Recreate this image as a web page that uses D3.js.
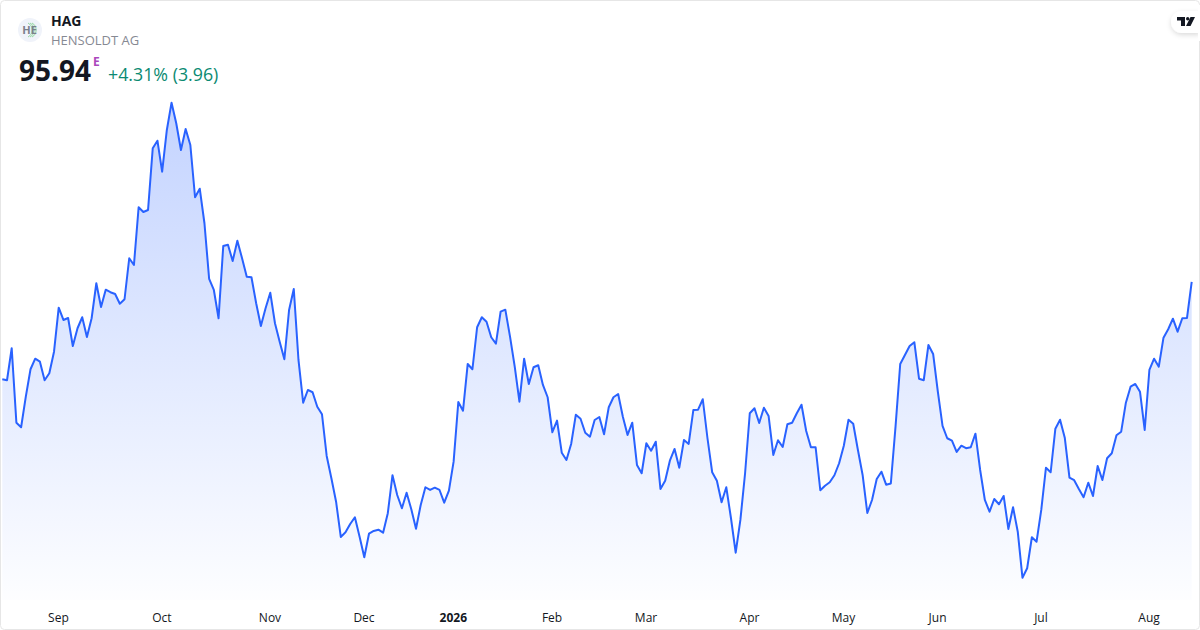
<!DOCTYPE html>
<html>
<head>
<meta charset="utf-8">
<script src="https://d3js.org/d3.v7.min.js"></script>
<style>
    html, body { margin: 0; padding: 0; background: #fff; }
    svg text { font-family: "Open Sans", sans-serif; }
</style>
</head>
<body>
<script>
// closing prices, one per trading day
var closes = [
    85.24,85.13,88.65,80.46,79.96,83.32,86.34,87.50,87.17,85.13,85.90,88.27,93.11,91.76,91.98,88.90,90.85,92.06,89.89,91.95,
    95.80,93.19,95.09,94.81,94.62,93.55,94.04,98.55,97.81,104.16,103.64,103.86,110.65,111.48,108.07,112.66,115.66,113.40,110.46,112.77,
    111.01,105.26,106.20,102.40,96.27,95.06,91.95,99.90,100.04,98.25,100.48,98.55,96.52,96.46,93.60,91.10,93.05,94.76,91.40,89.37,
    87.44,92.86,95.17,
    87.36,82.66,84.06,83.81,82.22,81.39,76.80,74.35,71.77,67.89,68.41,69.32,70.06,67.92,65.66,68.25,68.55,68.69,68.36,70.50,
    74.68,72.51,71.05,72.76,70.94,68.80,71.41,73.36,73.06,73.31,73.06,71.66,72.98,76.17,82.74,81.78,86.92,86.34,90.96,92.06,
    91.57,89.86,89.15,92.67,92.89,89.92,86.62,82.77,87.50,84.72,86.56,86.78,84.61,83.26,79.41,80.69,77.16,76.36,78.12,81.34,
    80.90,79.36,78.92,
    80.76,81.09,79.19,82.16,83.26,83.62,81.12,79.11,80.46,75.81,74.90,78.20,77.38,78.37,73.17,74.08,76.28,77.57,75.51,78.56,
    78.12,81.86,81.89,83.04,78.75,75.01,74.08,71.71,73.36,69.95,66.16,69.76,74.90,81.50,82.05,80.43,82.11,81.20,76.91,78.53,
    77.79,80.29,80.46,81.50,82.44,79.55,77.76,77.76,73.03,73.53,73.91,74.68,76.00,77.93,80.79,80.35,77.46,74.71,70.53,71.96,
    74.27,75.07,73.64,73.77,
    80.02,86.92,87.91,88.90,89.31,85.30,85.13,89.01,88.02,83.87,80.10,78.75,78.48,77.24,77.93,77.65,77.76,79.25,75.26,71.96,
    70.67,72.07,71.49,72.40,68.77,71.16,68.47,63.41,64.45,67.86,67.37,70.86,75.51,75.01,79.80,80.79,78.81,74.41,74.13,73.17,
    72.26,73.86,72.40,75.70,74.16,76.55,77.10,79.08,79.47,82.66,84.42,84.72,83.87,79.66,86.26,87.50,86.62,89.81,90.74,91.90,
    90.47,91.95,91.98,95.94
];
var monthTicks = [12, 34, 57, 77, 96, 117, 137, 159, 179, 199, 221, 244];
var monthLabels = ["Sep", "Oct", "Nov", "Dec", "2026", "Feb", "Mar", "Apr", "May", "Jun", "Jul", "Aug"];

var w = 1200, h = 630;

var svg = d3.select("body").append("svg")
    .attr("width", w)
    .attr("height", h)
    .style("display", "block");

var defs = svg.append("defs");
var grad = defs.append("linearGradient")
    .attr("id", "areaFill")
    .attr("gradientUnits", "userSpaceOnUse")
    .attr("x1", 0).attr("x2", 0)
    .attr("y1", 100).attr("y2", 600);
grad.append("stop").attr("offset", 0).attr("stop-color", "#2962ff").attr("stop-opacity", 0.28);
grad.append("stop").attr("offset", 1).attr("stop-color", "#2962ff").attr("stop-opacity", 0.01);

var pill = defs.append("filter").attr("id", "pillShadow")
    .attr("x", "-30%").attr("y", "-30%").attr("width", "160%").attr("height", "180%");
pill.append("feDropShadow").attr("dx", 0).attr("dy", 2).attr("stdDeviation", 2.5)
    .attr("flood-color", "#000").attr("flood-opacity", 0.14);

// card background
svg.append("rect")
    .attr("x", 0.5).attr("y", 0.5)
    .attr("width", w - 1).attr("height", h - 1)
    .attr("rx", 4)
    .attr("fill", "#fff")
    .attr("stroke", "#e6e6e6");

var x = d3.scaleLinear().domain([0, closes.length - 1]).range([2.3, 1191.7]);
var y = d3.scaleLinear().domain([115.66, 63.41]).range([102.7, 577.7]);

var area = d3.area()
    .x(function(d, i) { return x(i); })
    .y0(600)
    .y1(function(d) { return y(d); });
var line = d3.line()
    .x(function(d, i) { return x(i); })
    .y(function(d) { return y(d); });

svg.append("path").datum(closes)
    .attr("d", area)
    .attr("fill", "url(#areaFill)");
svg.append("path").datum(closes)
    .attr("d", line)
    .attr("fill", "none")
    .attr("stroke", "#2962ff")
    .attr("stroke-width", 2)
    .attr("stroke-linejoin", "round");

// month axis
var axis = d3.axisBottom(x)
    .tickValues(monthTicks)
    .tickSize(0)
    .tickPadding(0)
    .tickFormat(function(d, i) { return monthLabels[i]; });
var gx = svg.append("g").attr("transform", "translate(-0.8,613)").call(axis);
gx.select(".domain").remove();
gx.selectAll("text")
    .style("font-family", '"Open Sans", sans-serif')
    .style("font-size", "12px")
    .attr("fill", "#131722")
    .style("font-weight", function(d, i) { return monthLabels[i] == "2026" ? 700 : 400; });

// logo circle
var logo = svg.append("g").attr("transform", "translate(30,30)");
logo.append("circle").attr("r", 12).attr("fill", "#f0f3fa");
[-3, -1, 1].forEach(function(cx) {
    logo.append("path")
        .attr("d", "M" + (cx + 1) + ",-7 A8,8 0 0 1 " + (cx + 1) + ",7")
        .attr("fill", "none")
        .attr("stroke", "#7fcf8f")
        .attr("stroke-width", 0.8);
});
logo.append("text")
    .attr("y", 4).attr("x", -0.5).attr("text-anchor", "middle")
    .style("font-size", "11px").style("font-weight", 700)
    .attr("fill", "#7b808c")
    .text("HE");

// header
svg.append("text").attr("x", 51).attr("y", 26)
    .style("font-size", "14px").style("font-weight", 700)
    .attr("fill", "#131722").text("HAG");
svg.append("text").attr("x", 51).attr("y", 45)
    .style("font-size", "13px")
    .attr("fill", "#868993").text("HENSOLDT AG");
svg.append("text").attr("x", 19).attr("y", 81)
    .style("font-size", "28px").style("font-weight", 700)
    .attr("fill", "#131722").text("95.94");
svg.append("text").attr("x", 93).attr("y", 66)
    .style("font-size", "12px").style("font-weight", 700)
    .attr("fill", "#ab47bc").text("E");
svg.append("text").attr("x", 108).attr("y", 81)
    .style("font-size", "17.8px")
    .attr("fill", "#0b8a72").text("+4.31% (3.96)");

// tradingview pill, top right
svg.append("path")
    .attr("d", "M1200,11 H1182 A11,11 0 0 0 1182,33 H1200 Z")
    .attr("fill", "#fff")
    .attr("filter", "url(#pillShadow)");
svg.append("rect").attr("x", 1198).attr("y", 5).attr("width", 2).attr("height", 36).attr("fill", "#fff");
svg.append("path")
    .attr("d", "M1177,17 H1185 V26 H1181 V20.5 H1177 Z M1190.5,17 H1195 L1190.5,26 H1186 Z")
    .attr("fill", "#131722");
svg.append("circle").attr("cx", 1187.7).attr("cy", 18.7).attr("r", 1.7).attr("fill", "#131722");
</script>
</body>
</html>
